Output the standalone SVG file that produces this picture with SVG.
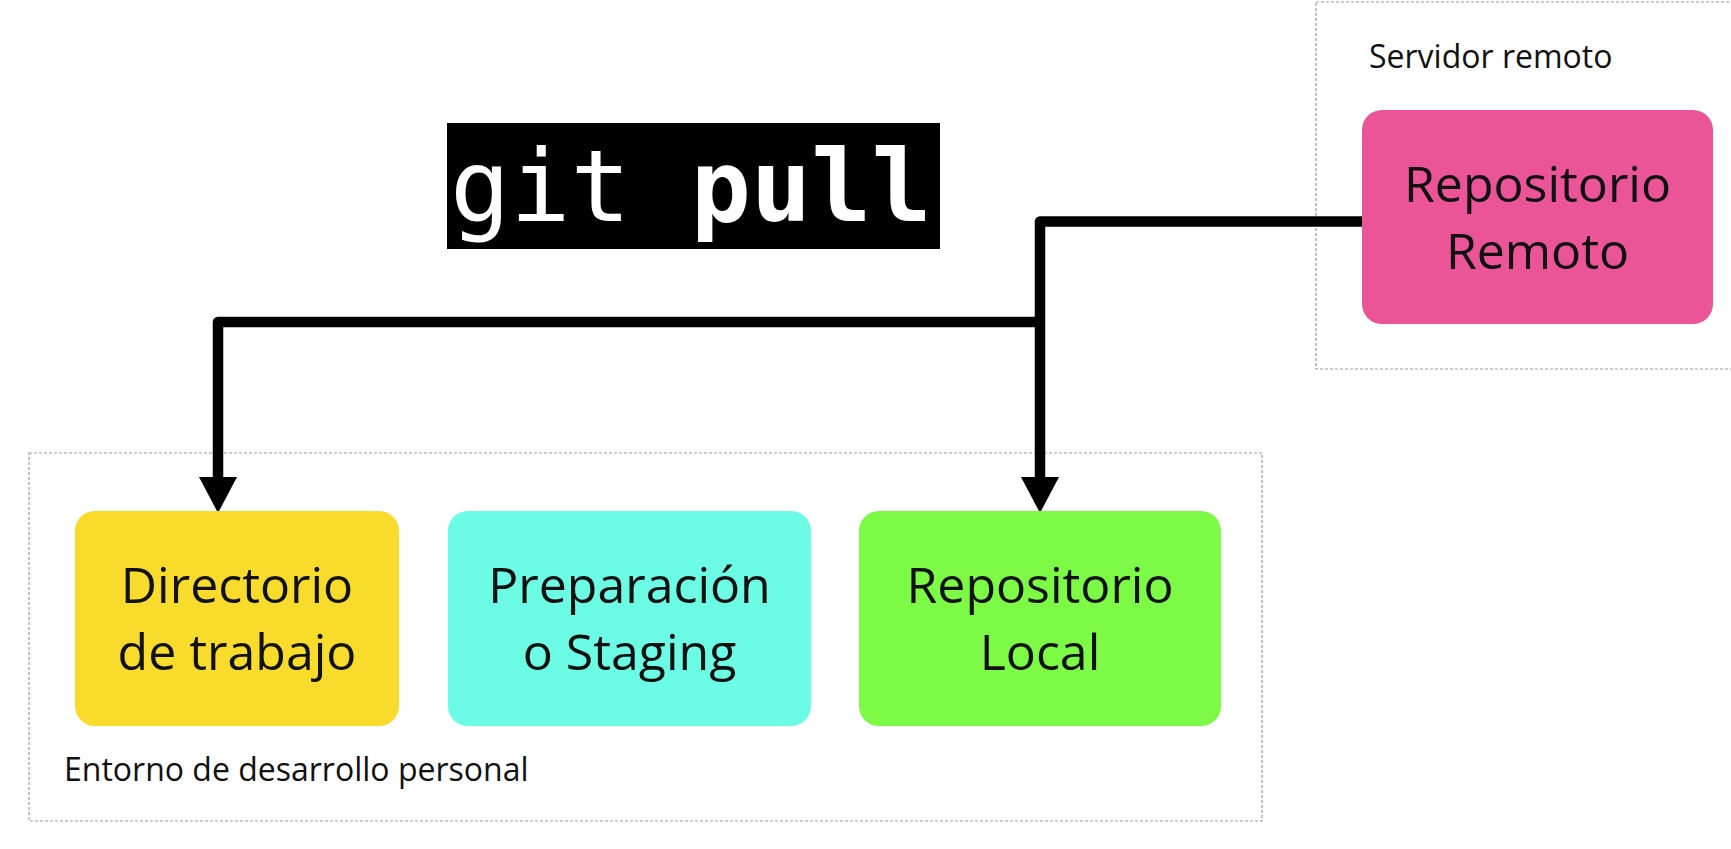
<svg xmlns="http://www.w3.org/2000/svg" width="1731" height="849" viewBox="0 0 1731 849">
<style>
.frame{fill:none;stroke:#9a9a9a;stroke-width:1.2;stroke-dasharray:3 2}
.frame-label{font-family:"Open Sans","Noto Sans",sans-serif;font-size:32px;fill:#111}
.node rect{stroke:none}
.node text{font-family:"Open Sans","Noto Sans",sans-serif;font-size:50px;fill:#111;text-anchor:middle}
.conn{fill:none;stroke:#000;stroke-width:10.5;stroke-linejoin:round}
.cmd{font-family:"DejaVu Sans Mono","Liberation Mono",monospace;font-size:100px;fill:#fff}
</style>
<defs>
<marker id="arrow" markerUnits="userSpaceOnUse" viewBox="0 0 36 38" refX="0" refY="19" markerWidth="36" markerHeight="38" orient="auto">
<path d="M0,0 L36,19 L0,38 z" fill="#000"/>
</marker>
</defs>
<rect width="1731" height="849" fill="#fff"/>
<g id="remote-server">
<rect class="frame" x="1316" y="2" width="430" height="367"/>
<text class="frame-label" x="1369" y="68">Servidor remoto</text>
</g>
<g id="dev-env">
<rect class="frame" x="29" y="453" width="1233" height="368"/>
<text class="frame-label" x="64" y="781">Entorno de desarrollo personal</text>
</g>
<g id="title">
<rect x="447" y="123" width="493" height="126" fill="#000"/>
<text class="cmd" x="450" y="221">git <tspan font-weight="bold">pull</tspan></text>
</g>
<g id="connectors">
<path class="conn" d="M1362,221.5 H1040 V477" marker-end="url(#arrow)"/>
<path class="conn" d="M1040,322 H218 V477" marker-end="url(#arrow)"/>
</g>
<g id="repo-remoto" class="node">
<rect x="1362" y="110" width="351" height="214" rx="20" fill="#eb5597"/>
<text x="1537.5" y="202">Repositorio</text>
<text x="1537.5" y="269">Remoto</text>
</g>
<g id="directorio-trabajo" class="node">
<rect x="75" y="511" width="324" height="215" rx="20" fill="#f8db2b"/>
<text x="237" y="603">Directorio</text>
<text x="237" y="670">de trabajo</text>
</g>
<g id="staging" class="node">
<rect x="448" y="511" width="363" height="215" rx="20" fill="#6cfce5"/>
<text x="629.5" y="603">Preparación</text>
<text x="629.5" y="670">o Staging</text>
</g>
<g id="repo-local" class="node">
<rect x="859" y="511" width="362" height="215" rx="20" fill="#7cfa46"/>
<text x="1040" y="603">Repositorio</text>
<text x="1040" y="670">Local</text>
</g>
</svg>
